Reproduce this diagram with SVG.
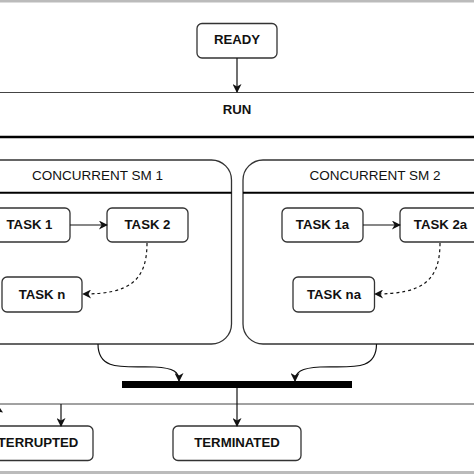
<svg xmlns="http://www.w3.org/2000/svg" width="474" height="474" viewBox="0 0 474 474">
<style>
.box{fill:#fff;stroke:#333;stroke-width:1.3}
.lbl{font-family:"Liberation Sans",Arial,sans-serif;font-weight:bold;font-size:13.2px;fill:#111;text-anchor:middle}
.hdr{font-family:"Liberation Sans",Arial,sans-serif;font-size:13.5px;fill:#111;text-anchor:middle}
.con{fill:none;stroke:#111;stroke-width:1.2}
.dash{fill:none;stroke:#111;stroke-width:1.2;stroke-dasharray:3,3}
</style>
<defs>
<marker id="ah" viewBox="0 0 10 10" refX="9" refY="5" markerWidth="10" markerHeight="9" markerUnits="userSpaceOnUse" orient="auto">
<path d="M0,0 L10,5 L0,10 L3,5 z" fill="#111"/>
</marker>
</defs>
<rect x="0" y="0" width="474" height="474" fill="#fff"/>
<rect x="0" y="0" width="474" height="2.5" fill="#bbb"/>
<rect x="0" y="471" width="474" height="3" fill="#bbb"/>

<g id="run">
<rect x="-10" y="92.5" width="494" height="311.5" fill="#fff" stroke="#444" stroke-width="1"/>
<line x1="-10" y1="137" x2="484" y2="137" stroke="#000" stroke-width="2.5"/>
<text class="lbl" x="237" y="114">RUN</text>
</g>

<g id="ready">
<rect class="box" x="197" y="23.5" width="80" height="34.5" rx="5"/>
<text class="lbl" x="237" y="44.3">READY</text>
</g>

<g id="sm1">
<rect class="box" x="-60" y="160" width="291.5" height="184" rx="20"/>
<line x1="-60" y1="192.7" x2="231.5" y2="192.7" stroke="#000" stroke-width="2"/>
<text class="hdr" x="97.5" y="180">CONCURRENT SM 1</text>
</g>

<g id="sm2">
<rect class="box" x="243" y="160" width="291.5" height="184" rx="20"/>
<line x1="243" y1="192.7" x2="534.5" y2="192.7" stroke="#000" stroke-width="2"/>
<text class="hdr" x="375" y="180">CONCURRENT SM 2</text>
</g>

<g id="task1">
<rect class="box" x="-12" y="208" width="82" height="34" rx="5"/>
<text class="lbl" x="29.5" y="229">TASK 1</text>
</g>
<g id="task2">
<rect class="box" x="107" y="208" width="81" height="34" rx="5"/>
<text class="lbl" x="147.5" y="229">TASK 2</text>
</g>
<g id="taskn">
<rect class="box" x="2" y="277" width="80" height="35" rx="5"/>
<text class="lbl" x="42" y="298.5">TASK n</text>
</g>

<g id="task1a">
<rect class="box" x="282" y="208" width="81" height="34" rx="5"/>
<text class="lbl" x="322.5" y="229">TASK 1a</text>
</g>
<g id="task2a">
<rect class="box" x="400" y="208" width="81" height="34" rx="5"/>
<text class="lbl" x="440.5" y="229">TASK 2a</text>
</g>
<g id="taskna">
<rect class="box" x="293" y="277" width="81.5" height="35" rx="5"/>
<text class="lbl" x="334" y="298.5">TASK na</text>
</g>

<g id="join">
<rect x="122" y="381" width="230" height="7" fill="#000"/>
</g>

<g id="interrupted">
<rect class="box" x="-30" y="426" width="123" height="34.5" rx="5"/>
<text class="lbl" x="31.5" y="446.5">INTERRUPTED</text>
</g>
<g id="terminated">
<rect class="box" x="173" y="426" width="128" height="34.5" rx="5"/>
<text class="lbl" x="237" y="446.5">TERMINATED</text>
</g>

<g id="connectors">
<line class="con" x1="237" y1="58" x2="237" y2="92" marker-end="url(#ah)"/>
<line class="con" x1="70" y1="225" x2="107" y2="225" marker-end="url(#ah)"/>
<line class="con" x1="363" y1="225" x2="400" y2="225" marker-end="url(#ah)"/>
<path class="dash" d="M147,243 C147,282 128,294 83,294" marker-end="url(#ah)"/>
<path class="dash" d="M440,243 C440,282 421,294 375,294" marker-end="url(#ah)"/>
<path class="con" d="M98,344 C98,372 125,366 155,367 C174,368 179,372 179,381" marker-end="url(#ah)"/>
<path class="con" d="M376.5,344 C376.5,372 350,366 320,367 C301,368 295,372 295,381" marker-end="url(#ah)"/>
<line class="con" x1="237" y1="388" x2="237" y2="426" marker-end="url(#ah)"/>
<line class="con" x1="61" y1="404" x2="61" y2="426" marker-end="url(#ah)"/>
<path d="M0,408 L3,412.5 L0,412 z" fill="#111"/>
</g>
</svg>
